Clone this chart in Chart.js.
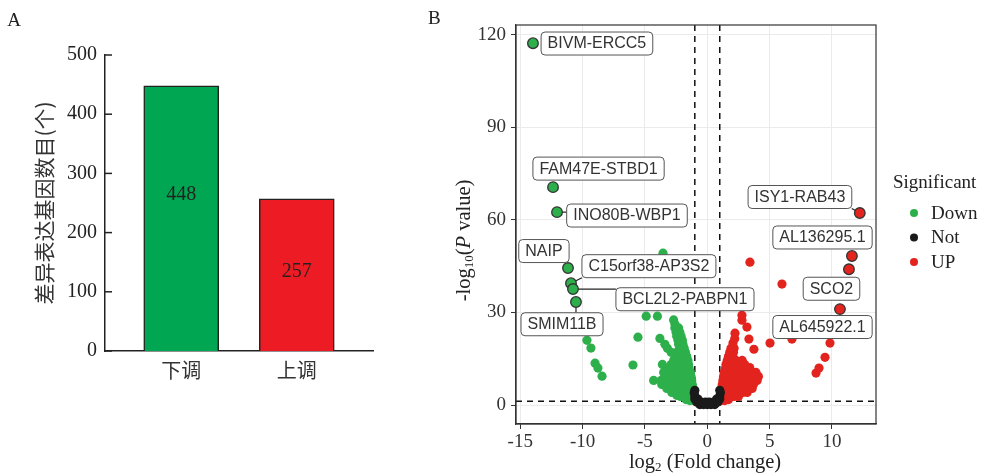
<!DOCTYPE html>
<html>
<head>
<meta charset="utf-8">
<script src="https://cdn.jsdelivr.net/npm/chart.js@4.4.1/dist/chart.umd.min.js"></script>
<style>
html, body { margin: 0; padding: 0; background: #fff; }
#wrap { position: relative; width: 987px; height: 473px; overflow: hidden; }
canvas { position: absolute; top: 0; }
#barCanvas { left: 0; }
#volcanoCanvas { left: 400px; }
</style>
</head>
<body>
<div id="wrap">
  <canvas id="barCanvas" width="400" height="473"></canvas>
  <canvas id="volcanoCanvas" width="587" height="473"></canvas>
</div>
<script>
// ---------- panel A data ----------
const barLabels = ['下调', '上调'];
const barValues = [448, 257];
const barTextAt = [264, 134];   // value level where the number is written
const barColors = ['#00A651', '#ED1C24'];

// ---------- panel B data ----------
// labelled genes
const geneNames = ['BIVM-ERCC5', 'FAM47E-STBD1', 'INO80B-WBP1', 'NAIP', 'C15orf38-AP3S2',
  'BCL2L2-PABPN1', 'SMIM11B', 'ISY1-RAB43', 'AL136295.1', 'SCO2', 'AL645922.1'];
const geneFC = [-13.98, -12.37, -12.05, -11.17, -10.93, -10.77, -10.53, 12.23, 11.6, 11.36, 10.64];
const geneP = [117.2, 70.6, 62.5, 44.4, 39.5, 37.6, 33.4, 62.2, 48.3, 44.0, 31.1];
const geneGroup = ['Down', 'Down', 'Down', 'Down', 'Down', 'Down', 'Down', 'UP', 'UP', 'UP', 'UP'];
// where the repelled label boxes sit (data units)
const boxFC = [-8.85, -8.72, -6.44, -13.1, -4.68, -1.79, -11.65, 7.43, 9.24, 9.96, 9.24];
const boxP = [117.1, 76.6, 61.4, 49.9, 45.0, 34.3, 26.2, 67.4, 54.3, 37.7, 25.3];

const downPoints = [
  [-3.55, 49.2], [-4.9, 28.8], [-4.0, 28.8], [-5.56, 22], [-5.96, 13],
  [-9.65, 21], [-9.33, 18.5], [-9.0, 13.6], [-8.77, 12], [-8.44, 9.4],
  [-1.1, 1.5], [-1.4, 1.5], [-1.7, 1.8],
  [-1.1, 2.8], [-1.45, 2.8], [-1.8, 2.8], [-2.15, 2.8], [-2.45, 3.2],
  [-1.1, 4.1], [-1.45, 4.1], [-1.8, 4.1], [-2.15, 4.1], [-2.5, 4.1], [-2.85, 4.1],
  [-1.15, 5.4], [-1.5, 5.4], [-1.85, 5.4], [-2.2, 5.4], [-2.55, 5.4], [-2.9, 5.4], [-3.25, 5.4],
  [-1.2, 6.7], [-1.55, 6.7], [-1.9, 6.7], [-2.25, 6.7], [-2.6, 6.7], [-2.95, 6.7], [-3.3, 6.7], [-3.65, 6.7],
  [-1.25, 8.0], [-1.6, 8.0], [-1.95, 8.0], [-2.3, 8.0], [-2.65, 8.0], [-3.0, 8.0], [-3.35, 8.0], [-3.7, 8.0], [-4.3, 8.0],
  [-1.3, 9.3], [-1.65, 9.3], [-2.0, 9.3], [-2.35, 9.3], [-2.7, 9.3], [-3.05, 9.3], [-3.4, 9.3],
  [-1.35, 10.6], [-1.7, 10.6], [-2.05, 10.6], [-2.4, 10.6], [-2.75, 10.6], [-3.1, 10.6], [-3.5, 10.6],
  [-1.45, 11.9], [-1.8, 11.9], [-2.15, 11.9], [-2.5, 11.9], [-2.85, 11.9], [-3.2, 11.9],
  [-1.5, 13.2], [-1.85, 13.2], [-2.2, 13.2], [-2.55, 13.2], [-2.9, 13.2], [-3.6, 13.2],
  [-1.55, 14.5], [-1.9, 14.5], [-2.25, 14.5], [-2.7, 14.5],
  [-1.65, 15.8], [-2.0, 15.8], [-2.35, 15.8],
  [-1.75, 17.1], [-2.1, 17.1], [-2.45, 17.1], [-2.9, 17.1],
  [-1.85, 18.4], [-2.2, 18.4], [-3.2, 18.4],
  [-1.95, 19.7], [-2.3, 19.7], [-3.4, 19.7],
  [-2.0, 21.0], [-2.35, 21.0], [-3.8, 21.6],
  [-2.1, 22.3], [-2.45, 22.3],
  [-2.2, 23.6], [-2.5, 23.6],
  [-2.3, 25.0], [-2.6, 25.0],
  [-2.6, 26.3], [-2.7, 27.6]
];

const upPoints = [
  [3.42, 46.3], [5.99, 39.2], [5.03, 20.1], [6.79, 21.4], [9.84, 20.1],
  [9.44, 15.5], [8.96, 12], [8.72, 10.4],
  [2.78, 29.1], [2.78, 27.5], [3.18, 25.3], [2.22, 23.3], [3.34, 21.4], [2.06, 20.1], [3.74, 18.1],
  [1.1, 1.5], [1.4, 1.5], [1.7, 1.8],
  [1.1, 2.8], [1.45, 2.8], [1.8, 2.8], [2.15, 2.8], [2.5, 2.8],
  [1.1, 4.1], [1.45, 4.1], [1.8, 4.1], [2.15, 4.1], [2.5, 4.1], [2.85, 4.1], [3.2, 4.1],
  [1.15, 5.4], [1.5, 5.4], [1.85, 5.4], [2.2, 5.4], [2.55, 5.4], [2.9, 5.4], [3.3, 5.4], [3.6, 5.4],
  [1.2, 6.7], [1.55, 6.7], [1.9, 6.7], [2.25, 6.7], [2.6, 6.7], [2.95, 6.7], [3.3, 6.7], [3.7, 6.7],
  [1.25, 8.0], [1.6, 8.0], [1.95, 8.0], [2.3, 8.0], [2.65, 8.0], [3.0, 8.0], [3.5, 8.0], [4.0, 8.0],
  [1.3, 9.3], [1.65, 9.3], [2.0, 9.3], [2.35, 9.3], [2.7, 9.3], [3.1, 9.3], [3.6, 9.3], [4.1, 9.3],
  [1.35, 10.6], [1.7, 10.6], [2.05, 10.6], [2.4, 10.6], [2.8, 10.6], [3.3, 10.6], [3.9, 10.6],
  [1.45, 11.9], [1.8, 11.9], [2.15, 11.9], [2.5, 11.9], [2.9, 11.9], [3.4, 12.2],
  [1.5, 13.2], [1.85, 13.2], [2.2, 13.2], [2.55, 13.2], [3.0, 13.2],
  [1.6, 14.5], [1.95, 14.5], [2.3, 14.5], [2.8, 14.5],
  [1.7, 15.8], [2.05, 15.8],
  [1.8, 17.1], [2.1, 17.1],
  [1.9, 18.4], [2.15, 18.4],
  [2.2, 21.5]
];

const notPoints = [
  [-0.6, 0.2], [-0.3, 0.2], [0, 0.2], [0.3, 0.2], [0.6, 0.2],
  [-0.85, 1.0], [-0.5, 1.0], [-0.15, 1.0], [0.15, 1.0], [0.5, 1.0], [0.85, 1.0],
  [-1.0, 2.0], [-0.75, 2.0], [0.75, 2.0], [1.0, 2.0],
  [-1.0, 3.0], [1.0, 3.0],
  [-1.05, 4.0], [1.05, 4.0],
  [-1.0, 4.8], [1.0, 4.8]
];

const fcCut = [-1, 1];
const pCut = 1.3;

const groupColors = { Down: '#2DB04B', Not: '#1A1A1A', UP: '#E3241E' };
const legendItems = ['Down', 'Not', 'UP'];

const serif = '"Liberation Serif", "Times New Roman", serif';
const sans = '"Liberation Sans", Arial, sans-serif';
const cjk = '"Noto Sans CJK SC", sans-serif';

// draws a run of text pieces centred on x
function drawPieces(ctx, pieces, x, y) {
  let total = 0;
  pieces.forEach(p => { ctx.font = p.font; total += ctx.measureText(p.t).width; });
  let cx = x - total / 2;
  ctx.textAlign = 'left';
  ctx.textBaseline = 'middle';
  pieces.forEach(p => {
    ctx.font = p.font;
    ctx.fillText(p.t, cx, y + (p.dy || 0));
    cx += ctx.measureText(p.t).width;
  });
}

// ---------- panel A ----------
const barExtras = {
  id: 'barExtras',
  afterDraw(chart) {
    const ctx = chart.ctx;
    const y = chart.scales.y;
    const x = chart.scales.x;
    ctx.save();
    ctx.strokeStyle = '#222';
    ctx.lineWidth = 1.5;
    y.ticks.forEach(t => {
      const py = y.getPixelForValue(t.value);
      ctx.beginPath();
      ctx.moveTo(chart.chartArea.left, py);
      ctx.lineTo(chart.chartArea.left + 7, py);
      ctx.stroke();
    });
    ctx.fillStyle = '#222';
    ctx.font = '20px ' + serif;
    ctx.textAlign = 'center';
    ctx.textBaseline = 'middle';
    barValues.forEach((v, i) => {
      ctx.fillText(String(v), x.getPixelForValue(i), y.getPixelForValue(barTextAt[i]));
    });
    ctx.font = '19px ' + serif;
    ctx.fillText('A', 14, 21);
    ctx.restore();
  }
};

new Chart(document.getElementById('barCanvas'), {
  type: 'bar',
  data: {
    datasets: [{
      data: barValues.map((v, i) => ({ x: i, y: v })),
      backgroundColor: barColors,
      borderColor: '#222',
      borderWidth: 1.5,
      barThickness: 75
    }]
  },
  options: {
    responsive: false,
    animation: false,
    events: [],
    layout: { padding: { left: 0, right: 27, top: 55, bottom: 0 } },
    plugins: { legend: { display: false }, tooltip: { enabled: false } },
    scales: {
      x: {
        type: 'linear',
        offset: false,
        min: -0.66,
        max: 1.66,
        grid: { display: false, drawTicks: false, offset: false },
        border: { display: true, color: '#222', width: 1.5 },
        ticks: {
          stepSize: 1,
          includeBounds: false,
          font: { family: cjk, size: 20 },
          color: '#333',
          padding: 7,
          callback: v => barLabels[v] || ''
        },
        afterFit: s => { s.height = 122; }
      },
      y: {
        min: 0,
        max: 500,
        grid: { display: false, drawTicks: false },
        border: { display: true, color: '#222', width: 1.5 },
        ticks: { stepSize: 100, font: { family: serif, size: 20 }, color: '#222', padding: 8 },
        title: {
          display: true,
          text: '差异表达基因数目(个)',
          font: { family: cjk, size: 21 },
          color: '#333',
          padding: { top: 31, bottom: 0 }
        },
        afterFit: s => { s.width = 105; }
      }
    }
  },
  plugins: [barExtras]
});

// ---------- panel B ----------
const labelFont = '16px ' + sans;

function boxRect(ctx, text, cx, cy) {
  const w = ctx.measureText(text).width + 13;
  const h = 23;
  return { x: cx - w / 2, y: cy - h / 2, w: w, h: h };
}

const volcanoExtras = {
  id: 'volcanoExtras',
  beforeDatasetsDraw(chart) {
    const ctx = chart.ctx;
    const { left, right, top, bottom } = chart.chartArea;
    const x = chart.scales.x, y = chart.scales.y;
    ctx.save();
    ctx.strokeStyle = '#111';
    ctx.lineWidth = 1.5;
    ctx.setLineDash([6, 5]);
    fcCut.forEach(v => {
      const px = x.getPixelForValue(v);
      ctx.beginPath(); ctx.moveTo(px, top); ctx.lineTo(px, bottom); ctx.stroke();
    });
    const py = y.getPixelForValue(pCut);
    ctx.beginPath(); ctx.moveTo(left, py); ctx.lineTo(right, py); ctx.stroke();
    ctx.setLineDash([]);
    // label connectors
    ctx.font = labelFont;
    ctx.strokeStyle = '#222';
    ctx.lineWidth = 1.2;
    geneNames.forEach((name, i) => {
      const b = boxRect(ctx, name, x.getPixelForValue(boxFC[i]), y.getPixelForValue(boxP[i]));
      const px = x.getPixelForValue(geneFC[i]), pyy = y.getPixelForValue(geneP[i]);
      const cx = Math.min(Math.max(px, b.x), b.x + b.w);
      const cy = Math.min(Math.max(pyy, b.y), b.y + b.h);
      if (Math.hypot(cx - px, cy - pyy) > 8.5) {
        ctx.beginPath(); ctx.moveTo(px, pyy); ctx.lineTo(cx, cy); ctx.stroke();
      }
    });
    ctx.restore();
  },
  afterDraw(chart) {
    const ctx = chart.ctx;
    const { left, right, top, bottom } = chart.chartArea;
    const x = chart.scales.x, y = chart.scales.y;
    ctx.save();
    // panel border
    ctx.strokeStyle = '#333';
    ctx.lineWidth = 1.2;
    ctx.strokeRect(left, top, right - left, bottom - top);
    // label boxes
    ctx.font = labelFont;
    geneNames.forEach((name, i) => {
      const b = boxRect(ctx, name, x.getPixelForValue(boxFC[i]), y.getPixelForValue(boxP[i]));
      ctx.beginPath();
      ctx.roundRect(b.x, b.y, b.w, b.h, 4);
      ctx.fillStyle = '#fff';
      ctx.fill();
      ctx.strokeStyle = '#555';
      ctx.lineWidth = 1;
      ctx.stroke();
      ctx.fillStyle = '#333';
      ctx.textAlign = 'center';
      ctx.textBaseline = 'middle';
      ctx.fillText(name, b.x + b.w / 2, b.y + b.h / 2 + 0.5);
    });
    // legend
    ctx.fillStyle = '#222';
    ctx.textAlign = 'left';
    ctx.textBaseline = 'middle';
    ctx.font = '19px ' + serif;
    ctx.fillText('Significant', 493, 183);
    legendItems.forEach((g, i) => {
      const ly = 213 + i * 24.5;
      ctx.beginPath();
      ctx.arc(514, ly, 4, 0, Math.PI * 2);
      ctx.fillStyle = groupColors[g];
      ctx.fill();
      ctx.fillStyle = '#222';
      ctx.fillText(g, 531, ly + 1);
    });
    // axis titles
    const big = '20.5px ' + serif, small = '13px ' + serif;
    ctx.fillStyle = '#222';
    drawPieces(ctx, [
      { t: 'log', font: big },
      { t: '2', font: small, dy: 5 },
      { t: ' (Fold change)', font: big }
    ], (left + right) / 2 + 9, 463);
    ctx.translate(65, (top + bottom) / 2 + 16);
    ctx.rotate(-Math.PI / 2);
    drawPieces(ctx, [
      { t: '-log', font: big },
      { t: '10', font: small, dy: 5 },
      { t: '(', font: big },
      { t: 'P', font: 'italic ' + big },
      { t: ' value)', font: big }
    ], 0, 0);
    ctx.restore();
    ctx.save();
    ctx.fillStyle = '#222';
    ctx.font = '19px ' + serif;
    ctx.textAlign = 'left';
    ctx.textBaseline = 'middle';
    ctx.fillText('B', 28, 19);
    ctx.restore();
  }
};

const toXY = arr => arr.map(p => ({ x: p[0], y: p[1] }));

new Chart(document.getElementById('volcanoCanvas'), {
  type: 'scatter',
  data: {
    datasets: [
      {
        label: 'labelled',
        data: geneFC.map((v, i) => ({ x: v, y: geneP[i] })),
        pointBackgroundColor: geneGroup.map(g => groupColors[g]),
        pointBorderColor: '#333',
        pointBorderWidth: 1.3,
        pointRadius: 5.3,
        order: 0
      },
      {
        label: 'Not',
        data: toXY(notPoints),
        backgroundColor: groupColors.Not,
        borderWidth: 0,
        pointRadius: 4.6,
        order: 1
      },
      {
        label: 'Down',
        data: toXY(downPoints),
        backgroundColor: groupColors.Down,
        borderWidth: 0,
        pointRadius: 4.6,
        order: 2
      },
      {
        label: 'UP',
        data: toXY(upPoints),
        backgroundColor: groupColors.UP,
        borderWidth: 0,
        pointRadius: 4.6,
        order: 3
      }
    ]
  },
  options: {
    responsive: false,
    animation: false,
    events: [],
    layout: { padding: { left: 0, right: 111, top: 25, bottom: 0 } },
    plugins: { legend: { display: false }, tooltip: { enabled: false } },
    scales: {
      x: {
        type: 'linear',
        min: -15.34,
        max: 13.53,
        grid: { color: '#EBEBEB', tickColor: '#333', tickLength: 5 },
        border: { display: true, color: '#333', width: 1.2 },
        ticks: { stepSize: 5, includeBounds: false, font: { family: serif, size: 19 }, color: '#333', padding: 2 },
        afterFit: s => { s.height = 49; }
      },
      y: {
        type: 'linear',
        min: -6.1,
        max: 123.1,
        grid: { color: '#EBEBEB', tickColor: '#333', tickLength: 5 },
        border: { display: true, color: '#333', width: 1.2 },
        ticks: { stepSize: 30, includeBounds: false, font: { family: serif, size: 19 }, color: '#333', padding: 5 },
        afterFit: s => { s.width = 116; }
      }
    }
  },
  plugins: [volcanoExtras]
});
</script>
</body>
</html>
